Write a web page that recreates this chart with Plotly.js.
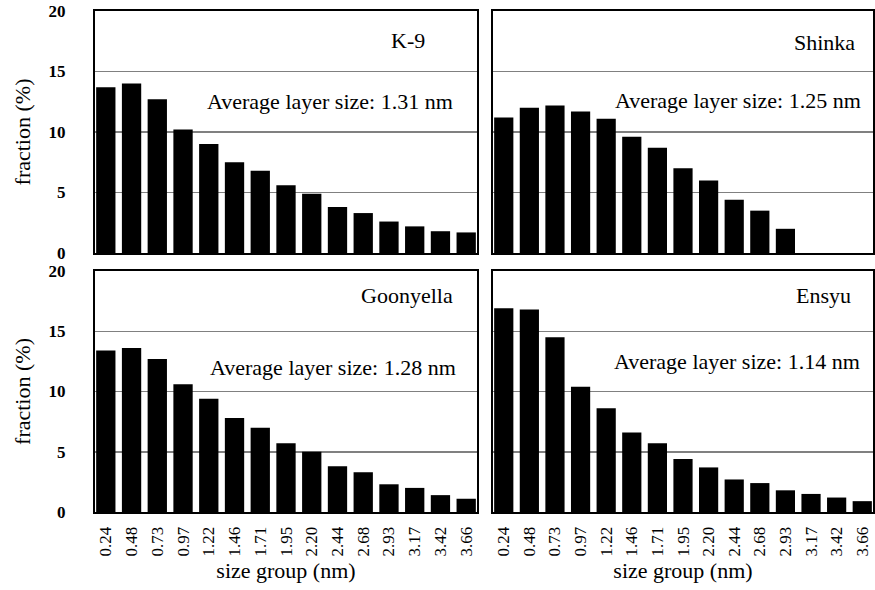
<!DOCTYPE html>
<html>
<head>
<meta charset="utf-8">
<script src="https://cdn.plot.ly/plotly-3.0.1.min.js"></script>
<style>html,body{margin:0;padding:0;background:#fff;}#chart{width:875px;height:590px;}</style>
</head>
<body>
<div id="chart"></div>
<script>
const categories = ["0.24","0.48","0.73","0.97","1.22","1.46","1.71","1.95","2.20","2.44","2.68","2.93","3.17","3.42","3.66"];
const k9 = [13.7, 14.0, 12.7, 10.2, 9.0, 7.5, 6.8, 5.6, 4.9, 3.8, 3.3, 2.6, 2.2, 1.8, 1.7];
const shinka = [11.2, 12.0, 12.2, 11.7, 11.1, 9.6, 8.7, 7.0, 6.0, 4.4, 3.5, 2.0, null, null, null];
const goonyella = [13.4, 13.6, 12.7, 10.6, 9.4, 7.8, 7.0, 5.7, 5.0, 3.8, 3.3, 2.3, 2.0, 1.4, 1.1];
const ensyu = [16.9, 16.8, 14.5, 10.4, 8.6, 6.6, 5.7, 4.4, 3.7, 2.7, 2.4, 1.8, 1.5, 1.2, 0.9];
const panelNames = ["K-9", "Shinka", "Goonyella", "Ensyu"];
const avgLabels = ["Average layer size: 1.31 nm", "Average layer size: 1.25 nm", "Average layer size: 1.28 nm", "Average layer size: 1.14 nm"];
const yTicks = [0, 5, 10, 15, 20];
const yTitle = "fraction (%)";
const xTitle = "size group (nm)";

const font = "'Liberation Serif', 'DejaVu Serif', serif";
const series = [k9, shinka, goonyella, ensyu];
const axes = [["x","y"],["x2","y2"],["x3","y3"],["x4","y4"]];

const traces = series.map((vals, i) => ({
  type: "bar", x: categories, y: vals,
  xaxis: axes[i][0], yaxis: axes[i][1],
  marker: {color: "#000"}, showlegend: false, hoverinfo: "x+y"
}));

const xDomL = [95/875, 477/875], xDomR = [493/875, 873/875];
const yDomT = [1-253/590, 1-11/590], yDomB = [1-512/590, 1-271/590];

function xa(dom, anchor, showLabels) {
  return {
    domain: dom, anchor: anchor, type: "category",
    range: [-0.42, 14.42], showline: true, mirror: true, linecolor: "#000", linewidth: 2,
    showgrid: false, zeroline: false, ticks: "",
    showticklabels: showLabels, tickangle: -90, ticklabelstandoff: 6,
    tickfont: {family: font, size: 17, color: "#000"},
    title: showLabels ? {text: xTitle, font: {family: font, size: 22, color: "#000"}, standoff: 7} : {text: ""}
  };
}
function ya(dom, anchor, showLabels) {
  return {
    domain: dom, anchor: anchor, range: [0, 20], tickvals: yTicks,
    showline: true, mirror: true, linecolor: "#000", linewidth: 2,
    showgrid: true, gridcolor: "#808080", gridwidth: 1.5, zeroline: false, ticks: "",
    showticklabels: showLabels, ticklabelstandoff: 24,
    tickfont: {family: font, size: 17, color: "#000", weight: "bold"},
    title: showLabels ? {text: yTitle, font: {family: font, size: 22, color: "#000"}, standoff: 12} : {text: ""}
  };
}

const nameX = [0.869, 0.958, 0.942, 0.947];
const nameY = [17.6, 17.4, 18.0, 18.0];
const avgX = [0.942, 0.974, 0.95, 0.97];
const avgY = [12.56, 12.6, 12.0, 12.45];

const annotations = [];
for (let i = 0; i < 4; i++) {
  const xr = axes[i][0] + " domain", yr = axes[i][1];
  annotations.push({text: panelNames[i], xref: xr, yref: yr, x: nameX[i], y: nameY[i], xanchor: "right", yanchor: "middle", showarrow: false, font: {family: font, size: 22, color: "#000"}});
  annotations.push({text: avgLabels[i], xref: xr, yref: yr, x: avgX[i], y: avgY[i], xanchor: "right", yanchor: "middle", showarrow: false, font: {family: font, size: 22, color: "#000"}});
}

const layout = {
  width: 875, height: 590,
  margin: {l: 0, r: 0, t: 0, b: 0},
  paper_bgcolor: "#fff", plot_bgcolor: "#fff",
  bargap: 0.25,
  font: {family: font, color: "#000"},
  xaxis: xa(xDomL, "y", false),
  yaxis: ya(yDomT, "x", true),
  xaxis2: xa(xDomR, "y2", false),
  yaxis2: ya(yDomT, "x2", false),
  xaxis3: xa(xDomL, "y3", true),
  yaxis3: ya(yDomB, "x3", true),
  xaxis4: xa(xDomR, "y4", true),
  yaxis4: ya(yDomB, "x4", false),
  annotations: annotations
};

Plotly.newPlot("chart", traces, layout, {displayModeBar: false, staticPlot: true});
</script>
</body>
</html>
